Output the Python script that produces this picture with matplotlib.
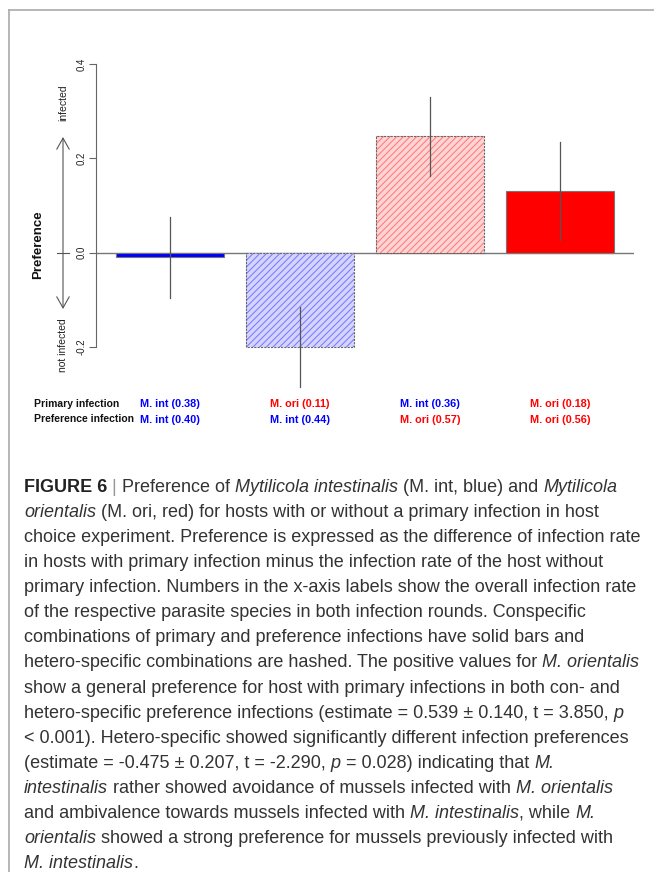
import numpy as np
import matplotlib
matplotlib.use("Agg")
import matplotlib.pyplot as plt
from matplotlib import font_manager
from matplotlib.patches import FancyArrowPatch
from matplotlib.lines import Line2D

# ---------------- data ----------------
primary_labels = ["M. int (0.38)", "M. ori (0.11)", "M. int (0.36)", "M. ori (0.18)"]
preference_labels = ["M. int (0.40)", "M. int (0.44)", "M. ori (0.57)", "M. ori (0.56)"]
preference_values = [-0.010, -0.200, 0.247, 0.130]
preference_errors = [0.086, 0.085, 0.084, 0.104]
primary_colors = ["#0000FF", "#FF0000", "#0000FF", "#FF0000"]
preference_colors = ["#0000FF", "#0000FF", "#FF0000", "#FF0000"]
hatch_fill = {"#0000FF": "#d4d4ff", "#FF0000": "#ffd4d4"}
hatch_line = {"#0000FF": "#7f7fff", "#FF0000": "#ff7f7f"}
hatched = [False, True, True, False]
y_ticks = [-0.2, 0.0, 0.2, 0.4]
y_tick_labels = ["-0.2", "0.0", "0.2", "0.4"]

caption = [
    [("FIGURE 6", "b"), (" | ", "s"), ("Preference of ", "n"), ("Mytilicola intestinalis", "i"),
     (" (M. int, blue) and ", "n"), ("Mytilicola", "i")],
    [("orientalis", "i"), (" (M. ori, red) for hosts with or without a primary infection in host", "n")],
    [("choice experiment. Preference is expressed as the difference of infection rate", "n")],
    [("in hosts with primary infection minus the infection rate of the host without", "n")],
    [("primary infection. Numbers in the x-axis labels show the overall infection rate", "n")],
    [("of the respective parasite species in both infection rounds. Conspecific", "n")],
    [("combinations of primary and preference infections have solid bars and", "n")],
    [("hetero-specific combinations are hashed. The positive values for ", "n"), ("M. orientalis", "i")],
    [("show a general preference for host with primary infections in both con- and", "n")],
    [("hetero-specific preference infections (estimate = 0.539 \u00b1 0.140, t = 3.850, ", "n"), ("p", "i")],
    [("< 0.001). Hetero-specific showed significantly different infection preferences", "n")],
    [("(estimate = -0.475 \u00b1 0.207, t = -2.290, ", "n"), ("p", "i"), (" = 0.028) indicating that ", "n"), ("M.", "i")],
    [("intestinalis", "i"), (" rather showed avoidance of mussels infected with ", "n"), ("M. orientalis", "i")],
    [("and ambivalence towards mussels infected with ", "n"), ("M. intestinalis", "i"), (", while ", "n"), ("M.", "i")],
    [("orientalis", "i"), (" showed a strong preference for mussels previously infected with", "n")],
    [("M. intestinalis", "i"), (".", "n")],
]

# ---------------- figure ----------------
W, H = 654, 872
plt.rcParams["hatch.linewidth"] = 0.8
fig = plt.figure(figsize=(W / 100, H / 100), dpi=100)

def fx(x):
    return x / W

def fy(y):
    return 1 - y / H

names = {f.name for f in font_manager.fontManager.ttflist}
chart_font = "Liberation Sans" if "Liberation Sans" in names else "DejaVu Sans"
cap_font = "Liberation Sans Narrow" if "Liberation Sans Narrow" in names else chart_font

# frame lines
fig.add_artist(Line2D([fx(9), fx(654)], [fy(10.5), fy(10.5)], color="#aaaaaa", lw=1.2))
fig.add_artist(Line2D([fx(9), fx(9)], [fy(10.5), fy(872)], color="#aaaaaa", lw=1.2))

# axes: R-style region x 96..634, y 52.7..358.3
ax = fig.add_axes([fx(96), fy(358.3), fx(634) - fx(96), fy(52.7) - fy(358.3)])
x = np.arange(len(preference_values)) * 1.2 + 0.7
ax.set_xlim(0.016, 4.984)
ax.set_ylim(-0.224, 0.424)

for xi, v, e, c, h in zip(x, preference_values, preference_errors, preference_colors, hatched):
    if h:
        ax.bar(xi, v, width=1.0, facecolor=hatch_fill[c], edgecolor=hatch_line[c], hatch="/////",
               linewidth=0, zorder=2)
        ax.bar(xi, v, width=1.0, fill=False, edgecolor="#666666", linewidth=0.8,
               linestyle=(0, (2, 1)), zorder=3)
    else:
        ax.bar(xi, v, width=1.0, color=c, edgecolor="#777777", linewidth=0.8, zorder=2)
    ax.plot([xi, xi], [v - e, v + e], color="#555555", lw=0.9, zorder=4, clip_on=False)

ax.axhline(0, color="#777777", lw=1.0, zorder=1)

for s in ["top", "right", "bottom"]:
    ax.spines[s].set_visible(False)
ax.spines["left"].set_bounds(-0.2, 0.4)
ax.spines["left"].set_color("#666666")
ax.spines["left"].set_linewidth(0.8)
ax.set_xticks([])
ax.set_yticks(y_ticks)
ax.set_yticklabels(y_tick_labels, rotation=90, va="center", fontsize=7.0, family=chart_font, color="#222222")
ax.tick_params(axis="y", length=5, width=0.8, color="#666666", pad=2)

# x labels under bars
lab_tr = matplotlib.transforms.blended_transform_factory(ax.transData, fig.transFigure)
for xi, p, q, pc, qc in zip(x, primary_labels, preference_labels, primary_colors, preference_colors):
    ax.text(xi, fy(404), p, transform=lab_tr, ha="center", va="center", color=pc,
            fontsize=7.8, fontweight="bold", family=chart_font)
    ax.text(xi, fy(419.5), q, transform=lab_tr, ha="center", va="center", color=qc,
            fontsize=7.8, fontweight="bold", family=chart_font)
fig.text(fx(34), fy(403.5), "Primary infection", ha="left", va="center", fontsize=7.5,
         fontweight="bold", family=chart_font, color="#111111")
fig.text(fx(34), fy(418.5), "Preference infection", ha="left", va="center", fontsize=7.5,
         fontweight="bold", family=chart_font, color="#111111")

# left annotations
fig.text(fx(38), fy(245), "Preference", rotation=90, ha="center", va="center", fontsize=9.5,
         fontweight="bold", family=chart_font, color="#111111")
fig.text(fx(63), fy(103), "infected", rotation=90, ha="center", va="center", fontsize=7.5,
         family=chart_font, color="#222222")
fig.text(fx(63), fy(345), "not infected", rotation=90, ha="center", va="center", fontsize=7.5,
         family=chart_font, color="#222222")
arr = FancyArrowPatch((fx(63), fy(137)), (fx(63), fy(309)), transform=fig.transFigure,
                      arrowstyle="<->,head_length=8,head_width=4.5", mutation_scale=1,
                      color="#555555", lw=0.8, shrinkA=0, shrinkB=0)
fig.add_artist(arr)
fig.add_artist(Line2D([fx(57), fx(69)], [fy(253), fy(253)], color="#555555", lw=0.8))

# caption
renderer = fig.canvas.get_renderer()

def props(style, size):
    d = dict(family=cap_font, fontsize=size, color="#333333")
    if style == "i":
        d["style"] = "italic"
    elif style == "b":
        d.update(fontweight="bold", color="#222222")
    elif style == "s":
        d.update(color="#999999")
    return d

def width(s, style, size):
    t = fig.text(0, 0, "|" + s + "|", **props(style, size))
    w1 = t.get_window_extent(renderer).width
    t.remove()
    t = fig.text(0, 0, "||", **props(style, size))
    w0 = t.get_window_extent(renderer).width
    t.remove()
    return w1 - w0

ref_line = caption[2][0][0]
size = 12.0 * 616.0 / width(ref_line, "n", 12.0)

for i, line in enumerate(caption):
    xpos = 24.0
    ybase = 492 + 25.07 * i
    for txt, st in line:
        fig.text(fx(xpos), fy(ybase), txt, ha="left", va="baseline", **props(st, size))
        xpos += width(txt, st, size)

fig.savefig("out.png", dpi=100)
